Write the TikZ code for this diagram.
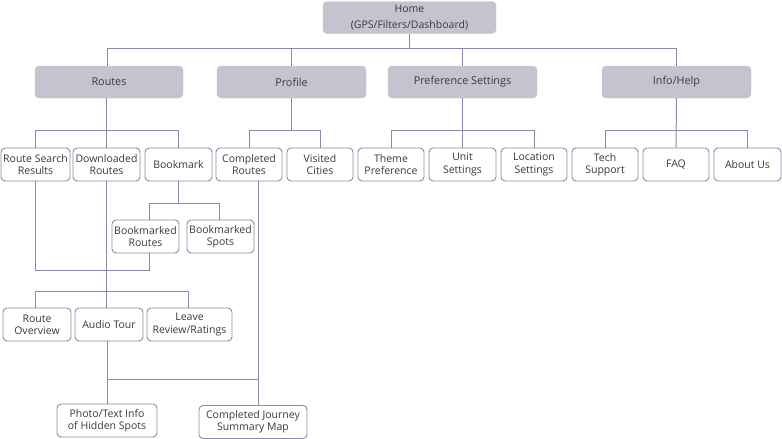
\documentclass[tikz,border=0pt]{standalone}
\usepackage{fontspec}
\setmainfont{Open Sans}
\definecolor{linec}{HTML}{8A8AA6}
\definecolor{fillc}{HTML}{C4C4D0}
\definecolor{txtc}{HTML}{3A3A3A}
\begin{document}
\begin{tikzpicture}[x=1pt,y=-1pt,
  base/.style={rounded corners=4pt, align=center, text=txtc, inner sep=0pt,
    font=\fontsize{10.5}{12.3}\selectfont},
  topbox/.style={base, fill=fillc, draw=fillc, minimum height=32pt,
    font=\fontsize{10.8}{12.3}\selectfont},
  subbox/.style={base, fill=white, draw=linec, line width=0.9pt, minimum height=33pt},
  conn/.style={draw=linec, line width=1pt}]
\useasboundingbox (0,0) rectangle (782,439);
% level 0/1
\node[topbox, minimum width=173pt, font=\fontsize{10.5}{16}\selectfont] (home) at (409.5,17.5) {Home\\(GPS/Filters/Dashboard)};
\node[topbox, minimum width=148pt] (routes) at (109,82) {Routes};
\node[topbox, minimum width=149pt] (profile) at (291.5,82) {Profile};
\node[topbox, minimum width=149pt] (pref) at (462.5,82) {Preference Settings};
\node[topbox, minimum width=149pt] (info) at (676.5,82) {Info/Help};
% level 2
\node[subbox, minimum width=69pt] (rsr) at (35.5,164.5) {Route Search\\Results};
\node[subbox, minimum width=67pt] (dl) at (106.5,164.5) {Downloaded\\Routes};
\node[subbox, minimum width=67pt] (bm) at (178.5,164.5) {Bookmark};
\node[subbox, minimum width=66pt] (cr) at (249,164.5) {Completed\\Routes};
\node[subbox, minimum width=66pt] (vc) at (320,164.5) {Visited\\Cities};
\node[subbox, minimum width=66pt] (tp) at (391,164.5) {Theme\\Preference};
\node[subbox, minimum width=67pt] (us) at (462.5,164.5) {Unit\\Settings};
\node[subbox, minimum width=66pt] (ls) at (534,164.5) {Location\\Settings};
\node[subbox, minimum width=66pt] (ts) at (605,164.5) {Tech\\Support};
\node[subbox, minimum width=66pt] (faq) at (676,164.5) {FAQ};
\node[subbox, minimum width=67pt] (au) at (747.5,164.5) {About Us};
% level 3
\node[subbox, minimum width=67pt] (bmr) at (145.5,236.5) {Bookmarked\\Routes};
\node[subbox, minimum width=67pt] (bms) at (220.5,236.5) {Bookmarked\\Spots};
% level 4
\node[subbox, minimum width=68pt] (ro) at (37,324.5) {Route\\Overview};
\node[subbox, minimum width=68pt] (at) at (109,324.5) {Audio Tour};
\node[subbox, minimum width=85pt] (lr) at (189.5,324.5) {Leave\\Review/Ratings};
% level 5
\node[subbox, minimum width=100pt] (ph) at (107,420.5) {Photo/Text Info\\of Hidden Spots};
\node[subbox, minimum width=108pt] (cj) at (253,422) {Completed Journey\\Summary Map};
% bus levels
\coordinate (b0) at (0,48);
\coordinate (b1) at (0,130);
\coordinate (b2) at (0,203);
\coordinate (b3) at (0,270);
\coordinate (b4) at (0,291);
\coordinate (b5) at (0,379);
% home to level 1
\draw[conn] (home.south) -- (home.south |- b0);
\draw[conn] ([xshift=-2pt]routes.north) |- (info.north |- b0) -- (info.north);
\draw[conn] (profile.north) -- (profile.north |- b0);
\draw[conn] (pref.north) -- (pref.north |- b0);
% routes
\draw[conn] (dl.north) -- (dl.north |- routes.south);
\draw[conn] (rsr.north) |- (bm.north |- b1) -- (bm.north);
% profile
\draw[conn] (profile.south) -- (profile.south |- b1);
\draw[conn] (cr.north) |- (vc.north |- b1) -- (vc.north);
% preferences
\draw[conn] (pref.south) -- (us.north);
\draw[conn] (tp.north) |- (ls.north |- b1) -- (ls.north);
% info
\draw[conn] (info.south) -- (faq.north);
\draw[conn] (ts.north) |- (au.north |- b1) -- (au.north);
% bookmark
\draw[conn] (bm.south) -- (bm.south |- b2);
\draw[conn] ([xshift=3.5pt]bmr.north) |- ([xshift=-1.5pt]bms.north |- b2) -- ([xshift=-1.5pt]bms.north);
% bookmarked routes and search results to route detail
\draw[conn] ([xshift=3.5pt]bmr.south) |- (rsr.south |- b3) -- (rsr.south);
\draw[conn] (dl.south) -- (dl.south |- at.north);
\draw[conn] ([xshift=-2pt]ro.north) |- ([xshift=-1.5pt]lr.north |- b4) -- ([xshift=-1.5pt]lr.north);
% audio tour and completed routes
\draw[conn] (ph.north) -- (ph.north |- at.south);
\draw[conn] ([xshift=9pt]cr.south) -- ([xshift=9pt]cr.south |- cj.north);
\draw[conn] (ph.north |- b5) -- ([xshift=9pt]cr.south |- b5);
\end{tikzpicture}
\end{document}
